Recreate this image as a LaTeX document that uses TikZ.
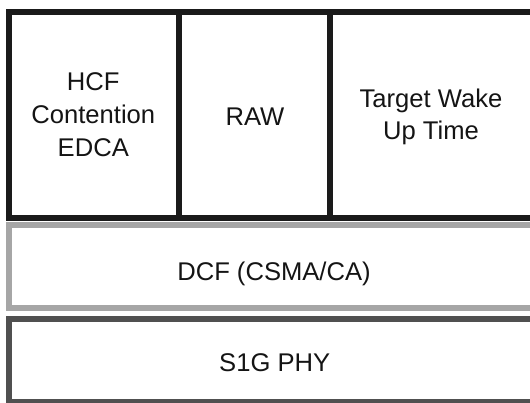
\documentclass[tikz,border=0pt]{standalone}
\usepackage{fontspec}
\setmainfont{Liberation Sans}
\definecolor{framedark}{HTML}{1A1A1A}
\definecolor{framelight}{HTML}{A6A6A6}
\definecolor{framemid}{HTML}{505050}
\definecolor{labelink}{HTML}{141414}
\begin{document}
\begin{tikzpicture}[x=1pt,y=-1pt,
  layer/.style={rectangle, draw, line width=6pt, line join=miter,
    inner sep=0pt, outer sep=0pt, anchor=center},
  caption/.style={inner sep=0pt, outer sep=0pt, anchor=center, align=center,
    text=labelink, font=\fontsize{25.6}{32.8}\selectfont}]
  \useasboundingbox (0,0) rectangle (530,403);
  \clip (0,0) rectangle (530,403);

  % upper MAC row: three side-by-side blocks (right one runs off the edge)
  \node[layer, draw=framedark, minimum width=169.5pt, minimum height=206pt] (hcfbox) at (93.75,115) {};
  \node[layer, draw=framedark, minimum width=151.5pt, minimum height=206pt] (rawbox) at (254.25,115) {};
  \node[layer, draw=framedark, minimum width=206pt, minimum height=206pt] (twtbox) at (433,115) {};

  % channel access layer
  \node[layer, draw=framelight, minimum width=527pt, minimum height=83pt] (dcfbox) at (272.5,266.8) {};

  % physical layer
  \node[layer, draw=framemid, minimum width=527pt, minimum height=83pt] (phybox) at (272.5,360.8) {};

  % labels
  \node[caption] (hcf) at (93.3,114.7) {HCF\\Contention\\EDCA};
  \node[caption] (raw) at (255,116.3) {RAW};
  \node[caption] (twt) at (431,116.9) {Target Wake\\Up Time};
  \node[caption] (dcf) at (274,273.7) {DCF (CSMA/CA)};
  \node[caption] (phy) at (274.7,362.5) {S1G PHY};
\end{tikzpicture}
\end{document}
